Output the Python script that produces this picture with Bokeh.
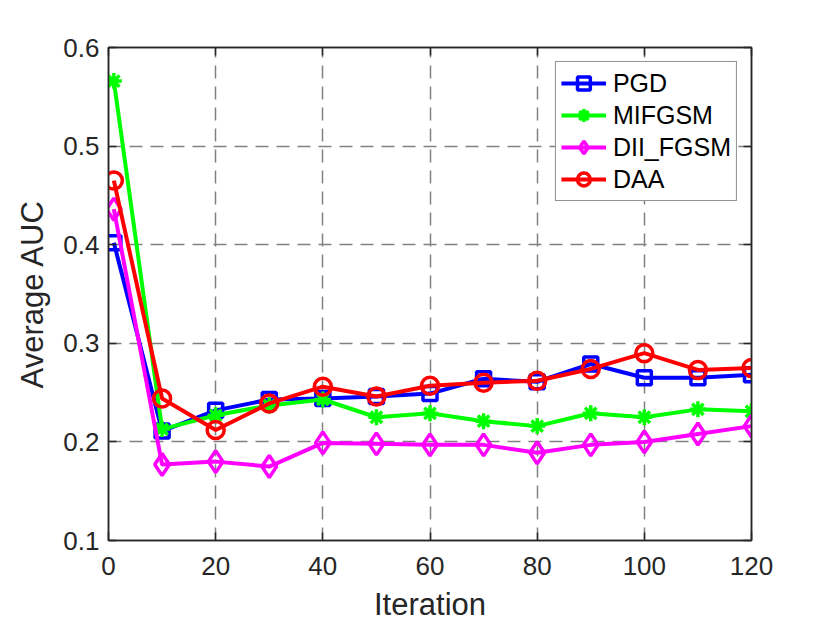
from bokeh.plotting import figure
from bokeh.models import Range1d, FixedTicker, LinearAxis, Legend, LegendItem
from bokeh.embed import file_html
from bokeh.resources import INLINE

iterations = [1, 10, 20, 30, 40, 50, 60, 70, 80, 90, 100, 110, 120]
pgd = [0.402, 0.211, 0.232, 0.243, 0.244, 0.246, 0.249, 0.264, 0.261, 0.279, 0.265, 0.265, 0.268]
mifgsm = [0.566, 0.213, 0.227, 0.237, 0.243, 0.225, 0.229, 0.221, 0.216, 0.229, 0.225, 0.233, 0.231]
dii_fgsm = [0.436, 0.177, 0.180, 0.175, 0.199, 0.198, 0.197, 0.197, 0.189, 0.197, 0.200, 0.208, 0.216]
daa = [0.465, 0.244, 0.212, 0.239, 0.256, 0.246, 0.257, 0.260, 0.262, 0.274, 0.290, 0.273, 0.275]

x_ticks = [0, 20, 40, 60, 80, 100, 120]
y_ticks = [0.1, 0.2, 0.3, 0.4, 0.5, 0.6]

FONT = "Liberation Sans"
AX = "#262626"

p = figure(frame_width=643, frame_height=493, output_backend="svg", toolbar_location=None,
           x_range=Range1d(0, 120), y_range=Range1d(0.1, 0.6),
           min_border_left=108, min_border_right=63, min_border_top=47, min_border_bottom=60)

p.background_fill_color = "white"
p.border_fill_color = "white"
p.outline_line_color = AX
p.outline_line_width = 1.5

for ax in [p.xaxis[0], p.yaxis[0]]:
    ax.major_tick_in = 8
    ax.major_tick_out = 0
    ax.minor_tick_in = 0
    ax.minor_tick_out = 0
    ax.axis_line_color = AX
    ax.axis_line_width = 1.5
    ax.major_tick_line_color = AX
    ax.major_tick_line_width = 1.5
    ax.major_label_text_font = FONT
    ax.major_label_text_font_size = "26px"
    ax.major_label_text_color = AX
    ax.axis_label_text_font = FONT
    ax.axis_label_text_font_style = "normal"
    ax.axis_label_text_color = AX
    ax.axis_label_text_font_size = "31px"

p.xaxis[0].ticker = FixedTicker(ticks=x_ticks)
p.yaxis[0].ticker = FixedTicker(ticks=y_ticks)
p.xaxis[0].axis_label = "Iteration"
p.yaxis[0].axis_label = "Average AUC"
p.xaxis[0].major_label_standoff = 16
p.yaxis[0].major_label_standoff = 9
p.xaxis[0].axis_label_standoff = 9
p.yaxis[0].axis_label_standoff = 10

top = LinearAxis(ticker=FixedTicker(ticks=x_ticks), major_label_text_font_size="0px",
                 major_tick_in=8, major_tick_out=0, minor_tick_in=0, minor_tick_out=0,
                 axis_line_color=AX, axis_line_width=1.5,
                 major_tick_line_color=AX, major_tick_line_width=1.5)
right = LinearAxis(ticker=FixedTicker(ticks=y_ticks), major_label_text_font_size="0px",
                   major_tick_in=8, major_tick_out=0, minor_tick_in=0, minor_tick_out=0,
                   axis_line_color=AX, axis_line_width=1.5,
                   major_tick_line_color=AX, major_tick_line_width=1.5)
p.add_layout(top, "above")
p.add_layout(right, "right")

p.xgrid.ticker = FixedTicker(ticks=x_ticks)
p.ygrid.ticker = FixedTicker(ticks=y_ticks)
for g in [p.xgrid[0], p.ygrid[0]]:
    g.grid_line_color = "#808080"
    g.grid_line_dash = "13 8"
    g.grid_line_width = 1.5

series = [
    ("PGD", pgd, "#0000ff", "square", 14),
    ("MIFGSM", mifgsm, "#00ff00", "asterisk", 16),
    ("DII_FGSM", dii_fgsm, "#ff00ff", "diamond", 22),
    ("DAA", daa, "#ff0000", "circle", 17),
]

items = []
for name, ys, color, marker, size in series:
    r1 = p.line(iterations, ys, line_color=color, line_width=4)
    r2 = p.scatter(iterations, ys, marker=marker, size=size, line_color=color,
                   line_width=3.5, fill_alpha=0)
    items.append(LegendItem(label=name, renderers=[r1, r2]))

legend = Legend(items=items, location="top_right")
legend.label_text_font = FONT
legend.label_text_font_size = "25px"
legend.label_text_color = "#000000"
legend.border_line_color = AX
legend.border_line_width = 1.5
legend.background_fill_color = "white"
legend.background_fill_alpha = 1
legend.glyph_width = 45
legend.glyph_height = 32
legend.label_height = 32
legend.spacing = 0
legend.padding = 5
legend.margin = 14
legend.label_standoff = 7
p.add_layout(legend)

open("out.html", "w").write(file_html(p, INLINE))
